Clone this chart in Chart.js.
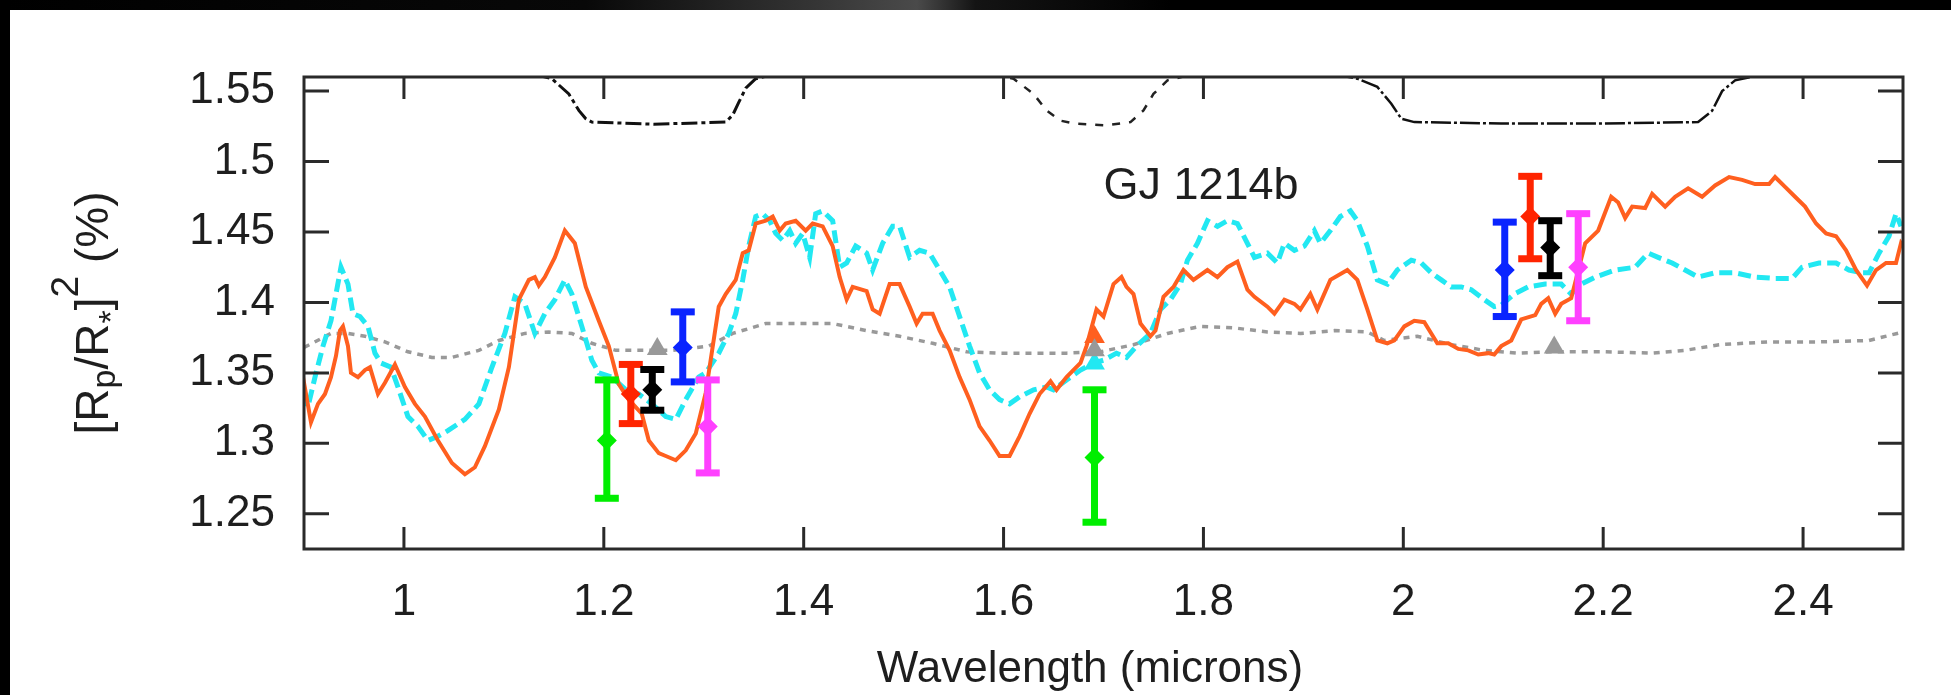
<!DOCTYPE html>
<html>
<head>
<meta charset="utf-8">
<script src="https://cdn.jsdelivr.net/npm/chart.js@4.4.0/dist/chart.umd.min.js"></script>
<style>
  html, body { margin: 0; padding: 0; background: #fff; }
  #wrap { position: relative; width: 1951px; height: 695px; overflow: hidden; background: #fff; }
  #topbar { position: absolute; left: 0; top: 0; width: 1951px; height: 10px;
    background: linear-gradient(to right, #000 0%, #080808 30%, #2e2e2e 40%, #4a4a4a 47%, #141414 50%, #000 60%, #000 100%); }
  #leftbar { position: absolute; left: 0; top: 0; width: 10px; height: 695px; background: #000; }
  canvas { position: absolute; left: 0; top: 0; }
</style>
</head>
<body>
<div id="wrap">
  <canvas id="spectrumChart" width="1951" height="695"></canvas>
  <div id="topbar"></div>
  <div id="leftbar"></div>
</div>
<script>
// eixos
var xTicks = [1, 1.2, 1.4, 1.6, 1.8, 2, 2.2, 2.4];
var xTickLabels = ['1', '1.2', '1.4', '1.6', '1.8', '2', '2.2', '2.4'];
var yTicks = [1.25, 1.3, 1.35, 1.4, 1.45, 1.5, 1.55];
var yTickLabels = ['1.25', '1.3', '1.35', '1.4', '1.45', '1.5', '1.55'];

// modelo laranja (linha continua) [comprimento de onda, valor]
var orangeModel = [[0.899,1.347],[0.907,1.315],[0.914,1.328],[0.921,1.335],[0.927,1.347],[0.932,1.362],[0.936,1.380],[0.939,1.383],[0.944,1.369],[0.947,1.350],[0.954,1.347],[0.961,1.352],[0.966,1.354],[0.974,1.335],[0.981,1.343],[0.991,1.356],[1.001,1.340],[1.011,1.328],[1.021,1.319],[1.034,1.302],[1.048,1.286],[1.061,1.278],[1.071,1.283],[1.081,1.298],[1.095,1.324],[1.105,1.354],[1.115,1.402],[1.125,1.416],[1.131,1.418],[1.135,1.412],[1.141,1.418],[1.151,1.432],[1.161,1.451],[1.171,1.442],[1.182,1.411],[1.195,1.387],[1.205,1.369],[1.215,1.342],[1.225,1.331],[1.238,1.321],[1.245,1.302],[1.255,1.293],[1.262,1.291],[1.272,1.288],[1.282,1.295],[1.292,1.307],[1.302,1.336],[1.315,1.397],[1.322,1.406],[1.332,1.416],[1.339,1.435],[1.345,1.437],[1.352,1.456],[1.362,1.458],[1.369,1.461],[1.376,1.451],[1.382,1.456],[1.392,1.458],[1.402,1.451],[1.409,1.456],[1.419,1.454],[1.429,1.440],[1.436,1.418],[1.443,1.402],[1.449,1.411],[1.463,1.408],[1.469,1.395],[1.476,1.392],[1.486,1.413],[1.496,1.413],[1.506,1.397],[1.513,1.385],[1.519,1.392],[1.529,1.392],[1.536,1.380],[1.546,1.366],[1.556,1.347],[1.566,1.331],[1.576,1.312],[1.586,1.302],[1.596,1.291],[1.606,1.291],[1.616,1.305],[1.626,1.321],[1.636,1.335],[1.647,1.344],[1.653,1.338],[1.663,1.347],[1.677,1.357],[1.683,1.369],[1.693,1.395],[1.700,1.390],[1.710,1.413],[1.718,1.418],[1.723,1.411],[1.730,1.406],[1.737,1.385],[1.747,1.376],[1.752,1.380],[1.760,1.404],[1.770,1.411],[1.780,1.423],[1.790,1.416],[1.804,1.423],[1.814,1.418],[1.824,1.425],[1.834,1.429],[1.844,1.409],[1.851,1.404],[1.864,1.397],[1.871,1.392],[1.881,1.402],[1.891,1.399],[1.897,1.395],[1.907,1.406],[1.914,1.395],[1.927,1.416],[1.944,1.423],[1.954,1.416],[1.964,1.395],[1.974,1.373],[1.984,1.371],[1.991,1.373],[2.001,1.383],[2.011,1.387],[2.021,1.386],[2.028,1.378],[2.034,1.371],[2.045,1.371],[2.055,1.367],[2.065,1.366],[2.075,1.363],[2.085,1.364],[2.091,1.363],[2.098,1.369],[2.108,1.373],[2.118,1.388],[2.132,1.391],[2.138,1.399],[2.145,1.403],[2.152,1.392],[2.158,1.399],[2.168,1.403],[2.182,1.442],[2.195,1.451],[2.208,1.475],[2.215,1.471],[2.222,1.460],[2.229,1.468],[2.242,1.467],[2.249,1.477],[2.262,1.468],[2.272,1.475],[2.285,1.481],[2.299,1.475],[2.312,1.483],[2.326,1.489],[2.339,1.487],[2.352,1.484],[2.366,1.484],[2.372,1.489],[2.382,1.482],[2.392,1.475],[2.402,1.468],[2.413,1.456],[2.423,1.449],[2.433,1.447],[2.443,1.437],[2.453,1.423],[2.464,1.412],[2.473,1.423],[2.483,1.428],[2.493,1.428],[2.498,1.442],[2.5,1.440]];

// modelo ciano (tracejado)
var cyanModel = [[0.897,1.335],[0.904,1.326],[0.911,1.347],[0.919,1.369],[0.927,1.387],[0.937,1.425],[0.944,1.413],[0.949,1.392],[0.956,1.390],[0.964,1.383],[0.971,1.364],[0.977,1.357],[0.987,1.354],[0.994,1.340],[1.004,1.319],[1.014,1.312],[1.024,1.302],[1.034,1.305],[1.044,1.309],[1.061,1.317],[1.075,1.328],[1.088,1.354],[1.101,1.378],[1.111,1.404],[1.121,1.399],[1.131,1.378],[1.141,1.392],[1.151,1.402],[1.161,1.416],[1.168,1.406],[1.178,1.383],[1.188,1.359],[1.195,1.350],[1.208,1.347],[1.222,1.338],[1.235,1.335],[1.248,1.328],[1.262,1.319],[1.272,1.317],[1.282,1.331],[1.295,1.347],[1.302,1.350],[1.315,1.364],[1.325,1.378],[1.332,1.392],[1.339,1.416],[1.345,1.440],[1.352,1.461],[1.359,1.463],[1.366,1.458],[1.372,1.449],[1.379,1.444],[1.386,1.451],[1.392,1.442],[1.399,1.449],[1.406,1.432],[1.412,1.463],[1.419,1.465],[1.429,1.458],[1.436,1.425],[1.443,1.428],[1.452,1.440],[1.463,1.435],[1.469,1.423],[1.479,1.442],[1.489,1.454],[1.496,1.454],[1.506,1.432],[1.516,1.437],[1.526,1.435],[1.536,1.423],[1.546,1.411],[1.556,1.390],[1.566,1.369],[1.576,1.350],[1.586,1.338],[1.596,1.331],[1.606,1.328],[1.616,1.333],[1.630,1.338],[1.643,1.340],[1.650,1.338],[1.663,1.345],[1.677,1.352],[1.690,1.357],[1.700,1.359],[1.713,1.364],[1.723,1.361],[1.733,1.369],[1.747,1.378],[1.757,1.395],[1.767,1.402],[1.777,1.413],[1.784,1.430],[1.794,1.442],[1.804,1.458],[1.814,1.454],[1.824,1.458],[1.834,1.456],[1.844,1.442],[1.851,1.432],[1.864,1.435],[1.874,1.428],[1.881,1.442],[1.891,1.437],[1.901,1.440],[1.911,1.451],[1.917,1.442],[1.927,1.451],[1.937,1.461],[1.947,1.465],[1.954,1.458],[1.964,1.440],[1.974,1.416],[1.984,1.413],[1.994,1.423],[2.008,1.430],[2.018,1.428],[2.028,1.421],[2.038,1.416],[2.048,1.411],[2.058,1.411],[2.068,1.409],[2.081,1.402],[2.091,1.397],[2.098,1.398],[2.111,1.406],[2.125,1.411],[2.142,1.413],[2.158,1.413],[2.168,1.406],[2.178,1.413],[2.192,1.418],[2.212,1.423],[2.232,1.425],[2.245,1.435],[2.255,1.432],[2.269,1.428],[2.282,1.423],[2.295,1.418],[2.312,1.421],[2.332,1.421],[2.352,1.418],[2.372,1.417],[2.389,1.417],[2.399,1.425],[2.416,1.428],[2.433,1.428],[2.446,1.423],[2.459,1.421],[2.466,1.421],[2.476,1.435],[2.486,1.447],[2.493,1.463],[2.498,1.454]];

// modelo cinza (pontilhado, plano)
var grayModel = [[0.9,1.368],[0.927,1.378],[0.944,1.378],[0.961,1.376],[0.981,1.372],[1.004,1.365],[1.028,1.361],[1.048,1.361],[1.075,1.366],[1.095,1.373],[1.121,1.378],[1.145,1.379],[1.168,1.378],[1.188,1.371],[1.212,1.366],[1.238,1.366],[1.268,1.366],[1.305,1.369],[1.329,1.378],[1.362,1.385],[1.396,1.385],[1.429,1.385],[1.463,1.380],[1.496,1.376],[1.529,1.371],[1.563,1.365],[1.596,1.364],[1.630,1.364],[1.663,1.364],[1.697,1.365],[1.730,1.370],[1.764,1.378],[1.797,1.383],[1.830,1.382],[1.864,1.379],[1.897,1.378],[1.931,1.380],[1.964,1.379],[1.981,1.373],[2.014,1.376],[2.048,1.370],[2.081,1.366],[2.115,1.364],[2.148,1.365],[2.198,1.365],[2.249,1.364],[2.282,1.366],[2.316,1.370],[2.366,1.372],[2.416,1.372],[2.466,1.373],[2.5,1.379]];

// curvas dos filtros J, H, K (topo)
var jBand = [[1.13,1.562],[1.148,1.5588],[1.165,1.548],[1.175,1.5363],[1.182,1.5304],[1.188,1.528],[1.25,1.5265],[1.322,1.528],[1.329,1.533],[1.335,1.542],[1.342,1.552],[1.352,1.5588],[1.37,1.562]];
var hBand = [[1.59,1.562],[1.610,1.5588],[1.630,1.548],[1.643,1.5363],[1.657,1.529],[1.670,1.527],[1.703,1.5257],[1.727,1.528],[1.740,1.5363],[1.750,1.548],[1.764,1.5576],[1.79,1.562]];
var kBand = [[1.93,1.562],[1.954,1.5588],[1.974,1.553],[1.988,1.541],[1.998,1.5304],[2.011,1.528],[2.098,1.527],[2.199,1.527],[2.295,1.528],[2.309,1.536],[2.319,1.550],[2.332,1.5576],[2.36,1.562]];

// valores binados dos modelos (triangulos)
var grayBinned = [[1.2535,1.367],[1.691,1.366],[2.151,1.368]];
var orangeBinned = [[1.691,1.3755]];
var cyanBinned = [[1.691,1.3567]];

// medidas: [comprimento de onda, valor, minimo, maximo]
var greenObs = [[1.203,1.302,1.261,1.345],[1.691,1.290,1.244,1.338]];
var redObs = [[1.227,1.335,1.314,1.356],[2.127,1.461,1.431,1.4895]];
var blackObs = [[1.2485,1.338,1.3235,1.3524],[2.147,1.439,1.419,1.458]];
var blueObs = [[1.279,1.368,1.3436,1.3933],[2.1015,1.423,1.390,1.457]];
var magentaObs = [[1.304,1.312,1.279,1.345],[2.175,1.425,1.387,1.463]];

var planetLabel = 'GJ 1214b';
var planetLabelPos = [1.70, 1.4845];

var fontFamily = '"Liberation Sans", Arial, Helvetica, sans-serif';
var textColor = '#1e1e1e';

function pts(arr) {
  return arr.map(function(p) { return {x: p[0], y: p[1]}; });
}

function lineSet(data, color, width, dash, order) {
  return { data: pts(data), showLine: true, borderColor: color, borderWidth: width,
    borderDash: dash, pointRadius: 0, fill: false, order: order };
}

function markerSet(data, color, style, radius, order) {
  return { data: pts(data), showLine: false, pointStyle: style, pointRadius: radius,
    backgroundColor: color, borderColor: color, borderWidth: 0, order: order };
}

var obsSets = [
  { obs: greenObs, color: '#00ee00' },
  { obs: redObs, color: '#ff2400' },
  { obs: blackObs, color: '#000000' },
  { obs: blueObs, color: '#0a24ff' },
  { obs: magentaObs, color: '#ff40ff' }
];

var datasets = [
  lineSet(grayModel, '#999999', 3.5, [6, 6], 6),
  lineSet(cyanModel, '#22e8f2', 5, [13, 6], 5),
  lineSet(orangeModel, '#ff5f1f', 4, [], 4),
  lineSet(jBand, '#111111', 3, [16, 4, 4, 4], 7),
  lineSet(hBand, '#222222', 2.5, [8, 9], 7),
  lineSet(kBand, '#111111', 2.5, [20, 3, 3, 3], 7),
  markerSet(grayBinned, '#999999', 'triangle', 12, 3),
  markerSet(orangeBinned, '#ff5f1f', 'triangle', 12, 3),
  markerSet(cyanBinned, '#22e8f2', 'triangle', 12, 3)
];
obsSets.forEach(function(s) {
  datasets.push(markerSet(s.obs, s.color, 'rectRot', 10, 1));
});

var decor = {
  id: 'decor',
  afterDatasetsDraw: function(chart) {
    var c = chart.ctx, a = chart.chartArea;
    var xs = chart.scales.x, ys = chart.scales.y;
    c.save();
    // barras de erro
    obsSets.forEach(function(s) {
      c.fillStyle = s.color;
      s.obs.forEach(function(o) {
        var px = xs.getPixelForValue(o[0]);
        var pLo = ys.getPixelForValue(o[2]);
        var pHi = ys.getPixelForValue(o[3]);
        c.fillRect(px - 3.5, pHi, 7, pLo - pHi);
        c.fillRect(px - 12, pHi - 3.5, 24, 7);
        c.fillRect(px - 12, pLo - 3.5, 24, 7);
      });
    });
    // moldura e marcas
    c.strokeStyle = '#2a2a2a';
    c.lineWidth = 3;
    c.strokeRect(a.left, a.top, a.right - a.left, a.bottom - a.top);
    c.beginPath();
    xTicks.forEach(function(v) {
      var px = xs.getPixelForValue(v);
      c.moveTo(px, a.bottom); c.lineTo(px, a.bottom - 22);
      c.moveTo(px, a.top); c.lineTo(px, a.top + 22);
    });
    yTicks.forEach(function(v) {
      var py = ys.getPixelForValue(v);
      c.moveTo(a.left, py); c.lineTo(a.left + 25, py);
      c.moveTo(a.right, py); c.lineTo(a.right - 25, py);
    });
    c.stroke();
    c.restore();
  },
  afterDraw: function(chart) {
    var c = chart.ctx, a = chart.chartArea;
    var xs = chart.scales.x, ys = chart.scales.y;
    c.save();
    c.fillStyle = textColor;
    c.textBaseline = 'alphabetic';
    // rotulo do planeta
    c.font = '45px ' + fontFamily;
    c.textAlign = 'left';
    c.fillText(planetLabel, xs.getPixelForValue(planetLabelPos[0]), ys.getPixelForValue(planetLabelPos[1]) + 16);
    // titulo eixo x
    c.font = '44px ' + fontFamily;
    c.textAlign = 'center';
    c.fillText('Wavelength (microns)', 1090, 682);
    // titulo eixo y: [Rp/R*]^2 (%)
    var S = 46;
    var parts = [
      { t: '[R', size: S, dy: 0 },
      { t: 'p', size: 34, dy: 7 },
      { t: '/R', size: S, dy: 0 },
      { t: '*', size: 34, dy: 14 },
      { t: ']', size: S, dy: 0 },
      { t: '2', size: 39, dy: -30 },
      { t: ' (%)', size: S, dy: 0 }
    ];
    var total = 0;
    parts.forEach(function(p) { c.font = p.size + 'px ' + fontFamily; p.w = c.measureText(p.t).width; total += p.w; });
    c.translate(87, (a.top + a.bottom) / 2);
    c.rotate(-Math.PI / 2);
    c.textAlign = 'left';
    var x = -total / 2;
    parts.forEach(function(p) {
      c.font = p.size + 'px ' + fontFamily;
      c.fillText(p.t, x, 21 + p.dy);
      x += p.w;
    });
    c.restore();
  }
};

var ctx = document.getElementById('spectrumChart').getContext('2d');
var spectrumChart = new Chart(ctx, {
  type: 'scatter',
  data: { datasets: datasets },
  options: {
    responsive: false,
    animation: false,
    devicePixelRatio: 1,
    layout: { padding: { left: 0, right: 48, top: 77, bottom: 0 } },
    plugins: { legend: { display: false }, tooltip: { enabled: false } },
    scales: {
      x: {
        type: 'linear', min: 0.9, max: 2.5,
        afterFit: function(s) { s.height = 146; },
        afterBuildTicks: function(s) { s.ticks = xTicks.map(function(v) { return {value: v}; }); },
        grid: { display: false, drawTicks: false },
        border: { display: false },
        ticks: {
          padding: 27, autoSkip: false, maxRotation: 0, color: textColor,
          font: { size: 44, family: fontFamily },
          callback: function(v, i) { return xTickLabels[i]; }
        }
      },
      y: {
        type: 'linear', min: 1.225, max: 1.56,
        afterFit: function(s) { s.width = 304; },
        afterBuildTicks: function(s) { s.ticks = yTicks.map(function(v) { return {value: v}; }); },
        grid: { display: false, drawTicks: false },
        border: { display: false },
        ticks: {
          padding: 29, autoSkip: false, color: textColor,
          font: { size: 44, family: fontFamily },
          callback: function(v, i) { return yTickLabels[i]; }
        }
      }
    }
  },
  plugins: [decor]
});
</script>
</body>
</html>
